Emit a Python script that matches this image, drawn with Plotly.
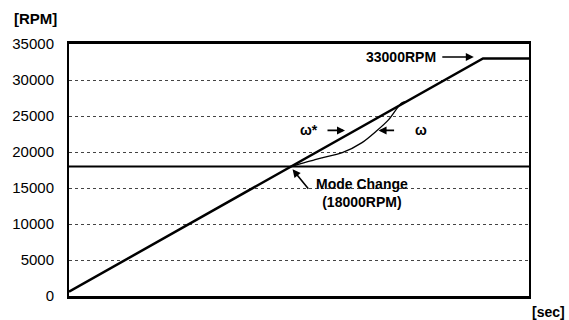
import plotly.graph_objects as go

# Speed reference (omega*) : linear ramp up to the 33000 RPM limit, then flat
time_ref = [0.0, 9.0, 10.0]
speed_ref = [600, 33000, 33000]

# Actual speed (omega) after the mode change, lagging then catching up
time_act = [4.83, 5.35, 5.5, 5.94, 6.37, 6.69, 6.95, 7.23, 7.33]
speed_act = [17990, 18950, 19200, 19900, 21300, 22950, 24500, 26800, 26990]

# Mode change threshold
mode_change_rpm = 18000

y_ticks = [0, 5000, 10000, 15000, 20000, 25000, 30000, 35000]

FONT = "Arial, Liberation Sans, sans-serif"

fig = go.Figure()

# Mode change level across the whole time span
fig.add_trace(go.Scatter(
    x=[time_ref[0], time_ref[-1]], y=[mode_change_rpm, mode_change_rpm],
    mode="lines", line=dict(color="black", width=2), hoverinfo="skip"))

# Actual speed curve
fig.add_trace(go.Scatter(
    x=time_act, y=speed_act, mode="lines",
    line=dict(color="black", width=1.3, shape="spline", smoothing=0.8),
    hoverinfo="skip"))

# Reference speed
fig.add_trace(go.Scatter(
    x=time_ref, y=speed_ref, mode="lines",
    line=dict(color="black", width=2.5), hoverinfo="skip"))

bold = dict(family=FONT, size=14, color="black")

ann = [
    # value labels
    dict(x=8.02, y=33200, text="<b>33000RPM</b>", showarrow=False,
         xanchor="right", yanchor="middle", font=bold),
    dict(x=8.8, y=33200, ax=-33, ay=0, text="", showarrow=True,
         arrowhead=2, arrowsize=1, arrowwidth=1.6, arrowcolor="black"),
    dict(x=5.45, y=23000, text="<b>ω*</b>", showarrow=False,
         xanchor="right", yanchor="middle", font=bold),
    dict(x=6.0, y=23000, ax=-19, ay=0, text="", showarrow=True,
         arrowhead=2, arrowsize=1, arrowwidth=1.6, arrowcolor="black"),
    dict(x=6.73, y=23000, ax=17, ay=0, text="", showarrow=True,
         arrowhead=2, arrowsize=1, arrowwidth=1.6, arrowcolor="black"),
    dict(x=7.65, y=23000, text="<b>ω</b>", showarrow=False,
         xanchor="center", yanchor="middle", font=bold),
    dict(x=4.86, y=17600, ax=17, ay=21, text="", showarrow=True,
         arrowhead=2, arrowsize=1, arrowwidth=1.6, arrowcolor="black"),
    dict(x=6.36, y=14300, text="<b>Mode Change<br>(18000RPM)</b>",
         showarrow=False, xanchor="center", yanchor="middle", font=bold),
    # axis titles
    dict(x=-0.123, y=1.1, xref="paper", yref="paper", text="<b>[RPM]</b>",
         showarrow=False, xanchor="left", yanchor="middle",
         font=dict(family=FONT, size=15, color="black")),
    dict(x=1.082, y=-0.063, xref="paper", yref="paper", text="<b>[sec]</b>",
         showarrow=False, xanchor="right", yanchor="middle",
         font=dict(family=FONT, size=14, color="black")),
]

fig.update_layout(
    width=569, height=320,
    margin=dict(l=64, r=40, t=44, b=24),
    paper_bgcolor="white", plot_bgcolor="white",
    showlegend=False,
    annotations=ann,
    font=dict(family=FONT, color="black"),
)

fig.update_xaxes(
    range=[0, 10], showticklabels=False, showgrid=False, zeroline=False,
    showline=True, linecolor="black", linewidth=2.5, mirror=True, ticks="")

fig.update_yaxes(
    range=[0, 35000], tickvals=y_ticks, ticktext=[str(v) for v in y_ticks],
    showgrid=True, gridcolor="#444444", gridwidth=1, griddash="dot",
    zeroline=False, showline=True, linecolor="black", linewidth=2,
    mirror=True, ticks="", ticklabelstandoff=10,
    tickfont=dict(family=FONT, size=15, color="black"))

fig.write_html("out.html")
